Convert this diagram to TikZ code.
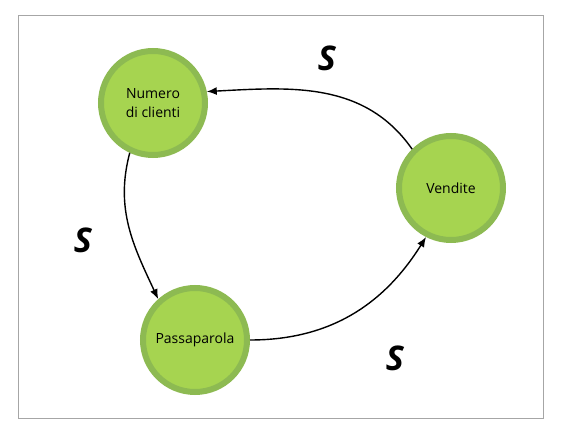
\documentclass[tikz,border=0pt]{standalone}
\usepackage{fontspec}
\setmainfont{Open Sans}
\usepackage{tikz}
\usetikzlibrary{arrows.meta,positioning}
\definecolor{ringGreen}{RGB}{141,186,82}
\definecolor{fillGreen}{RGB}{166,212,80}
\tikzset{
myCircle/.style={
	circle,draw=ringGreen,fill=fillGreen,line width=6pt,
	inner sep=0pt,minimum size=104pt,align=center,
	text=black,font=\fontsize{14}{19}\selectfont
}
% link
, myLink/.style={-{Latex[length=10pt,width=8pt]},color=black,line width=1.4pt}
, mySign/.style={
	inner sep=0pt,text=black,
	font=\fontsize{34}{34}\selectfont\itshape\bfseries
}
}
\begin{document}
\begin{tikzpicture}[x=1pt,y=1pt]
	\useasboundingbox (0,0) rectangle (563,434);
	\draw[gray!70] (18,16) rectangle (543,419);
	% nodes
	\node[myCircle] (Clienti) at (153,331) {Numero\\di clienti};
	\node[myCircle] (Vendite) at (451,246) {Vendite};
	\node[myCircle] (Passaparola) at (195,94) {Passaparola};
	% signs
	\node[mySign] (SignTop) at (327,376) {S};
	\node[mySign] (SignLeft) at (83,194) {S};
	\node[mySign] (SignBottom) at (395,76) {S};
	% links
	\draw [myLink] (Vendite.135) to[out=125,in=3] (Clienti.12);
	\draw [myLink] (Clienti.245) to[out=255,in=115] (Passaparola.132);
	\draw [myLink] (Passaparola.0) to[out=0,in=238] (Vendite.243);
\end{tikzpicture}
\end{document}
